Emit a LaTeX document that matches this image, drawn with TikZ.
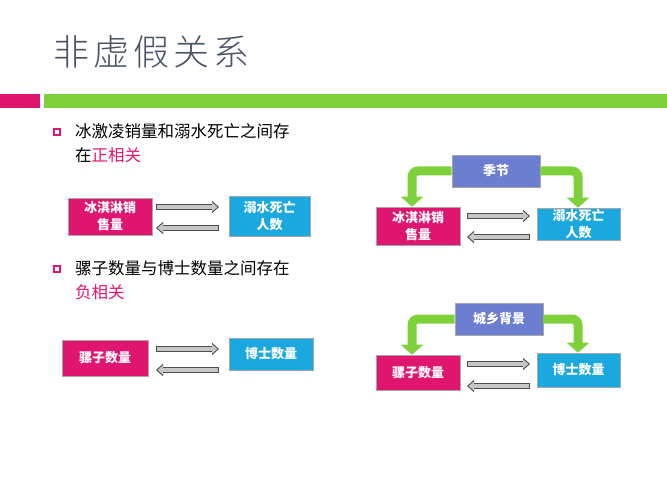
\documentclass[tikz,border=0pt]{standalone}
\usepackage{fontspec}
\setmainfont{Noto Sans CJK SC}
\newfontfamily\titlefont{Noto Sans CJK SC Light}
\usetikzlibrary{arrows.meta}
\definecolor{pinkc}{HTML}{E0156F}
\definecolor{bluec}{HTML}{1BA8DE}
\definecolor{purc}{HTML}{6C7ED0}
\definecolor{greenc}{HTML}{7ED13A}
\definecolor{titlec}{HTML}{4A5566}
\tikzset{
 box/.style={draw=gray!70, line width=0.6pt, text=white, font=\fontsize{13}{17}\selectfont\bfseries, align=center, inner sep=0pt},
 pbox/.style={box, fill=pinkc},
 bbox/.style={box, fill=bluec},
 ubox/.style={box, fill=purc},
 garr/.style={draw=black!70, line width=6pt, -{Triangle[length=7pt,width=12pt]}},
 garrin/.style={draw=gray!45, line width=4pt, -{Triangle[length=5.5pt,width=9pt]}},
 gbend/.style={greenc, line width=9pt, rounded corners=6pt, -{Triangle[length=10pt,width=22pt]}},
 txt/.style={font=\fontsize{16.5}{20}\selectfont, anchor=west, inner sep=0pt},
 bul/.style={draw=pinkc, line width=1.2pt, minimum size=6pt, inner sep=0pt}
}
\begin{document}
\begin{tikzpicture}[x=1pt,y=-1pt]
\useasboundingbox (0,0) rectangle (667,500);
\node[anchor=west, text=titlec, font=\titlefont\fontsize{36}{38}\selectfont, inner sep=0pt] (title) at (53,52) {非\hspace{4pt}虚\hspace{4pt}假\hspace{4pt}关\hspace{4pt}系};
\fill[pinkc] (0,94) rectangle (40,108);
\fill[greenc] (44,94) rectangle (667,108);
% bullets
\node[bul] (b1) at (57,132) {};
\node[txt] (t1) at (75,131) {冰激凌销量和溺水死亡之间存};
\node[txt] (t1b) at (75,155) {在\textcolor{pinkc}{正相关}};
\node[bul] (b2) at (57,269) {};
\node[txt] (t2) at (75,268) {骡子数量与博士数量之间存在};
\node[txt] (t2b) at (75,292) {\textcolor{pinkc}{负相关}};
% left diagram 1
\node[pbox, minimum width=84pt, minimum height=37pt] (a1) at (110,216.5) {冰淇淋销\\售量};
\node[bbox, minimum width=81pt, minimum height=40pt] (c1) at (269.5,216) {溺水死亡\\人数};
\draw[garr] (156,207) -- (219,207); \draw[garrin] (157,207) -- (217.5,207);
\draw[garr] (219,228) -- (156,228); \draw[garrin] (218,228) -- (157.5,228);
% left diagram 2
\node[pbox, minimum width=86pt, minimum height=36pt] (a2) at (105,358) {骡子数量};
\node[bbox, minimum width=84pt, minimum height=32pt] (c2) at (271,354) {博士数量};
\draw[garr] (156,349) -- (219,349); \draw[garrin] (157,349) -- (217.5,349);
\draw[garr] (219,370) -- (156,370); \draw[garrin] (218,370) -- (157.5,370);
% right diagram 1
\node[ubox, minimum width=88pt, minimum height=32pt] (s1) at (496,171) {季节};
\node[pbox, minimum width=84pt, minimum height=38pt] (a3) at (418,226) {冰淇淋销\\售量};
\node[bbox, minimum width=83pt, minimum height=32pt] (c3) at (578.5,224) {溺水死亡\\人数};
\draw[garr] (467,216) -- (530,216); \draw[garrin] (468,216) -- (528.5,216);
\draw[garr] (530,237) -- (467,237); \draw[garrin] (529,237) -- (468.5,237);
\draw[gbend] (s1.west) -- (412,171) -- (a3.north -| 412,0);
\draw[gbend] (s1.east) -- (578,171) -- (c3.north -| 578,0);
% right diagram 2
\node[ubox, minimum width=88pt, minimum height=32pt] (s2) at (499,319) {城乡背景};
\node[pbox, minimum width=84pt, minimum height=35pt] (a4) at (418,372.5) {骡子数量};
\node[bbox, minimum width=83pt, minimum height=34pt] (c4) at (578.5,370) {博士数量};
\draw[garr] (467,364) -- (530,364); \draw[garrin] (468,364) -- (528.5,364);
\draw[garr] (530,386) -- (467,386); \draw[garrin] (529,386) -- (468.5,386);
\draw[gbend] (s2.west) -- (412,319) -- (a4.north -| 412,0);
\draw[gbend] (s2.east) -- (578,319) -- (c4.north -| 578,0);
\end{tikzpicture}
\end{document}
